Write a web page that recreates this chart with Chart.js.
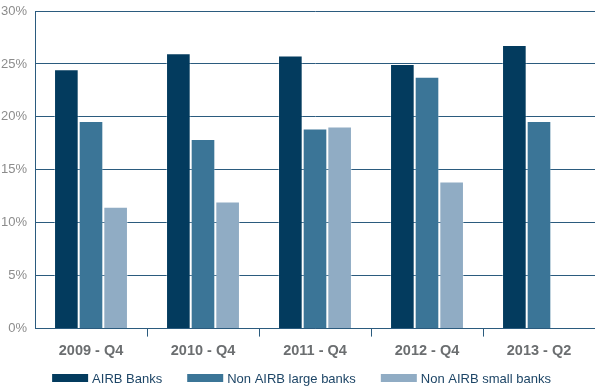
<!DOCTYPE html>
<html>
<head>
<meta charset="utf-8">
<script src="https://cdn.jsdelivr.net/npm/chart.js@4/dist/chart.umd.min.js"></script>
<style>
  html, body { margin: 0; padding: 0; background: #fff; }
  #wrap { width: 595px; height: 387px; }
</style>
</head>
<body>
<div id="wrap"><canvas id="bankChart"></canvas></div>
<script>
const periods = ['2009 - Q4', '2010 - Q4', '2011 - Q4', '2012 - Q4', '2013 - Q2'];
const airbBanks = [24.5, 26.0, 25.8, 25.0, 26.8];
const nonAirbLarge = [19.6, 17.9, 18.9, 23.8, 19.6];
const nonAirbSmall = [11.5, 12.0, 19.1, 13.9, null];
const yTicks = [0, 5, 10, 15, 20, 25, 30];

const lineColor = '#2b5b7e';

// row of wide colour boxes under the axis, one per dataset
const bottomLegend = {
    id: 'bottomLegend',
    afterDraw(chart) {
        const c = chart.ctx;
        const boxW = 36, boxH = 8, gap = 4, itemGap = 25;
        c.save();
        c.font = '13px "Liberation Sans"';
        c.textBaseline = 'middle';
        const items = chart.data.datasets.map(ds => ({
            label: ds.label,
            color: ds.backgroundColor,
            w: boxW + gap + c.measureText(ds.label).width
        }));
        const total = items.reduce((s, it) => s + it.w, 0) + itemGap * (items.length - 1);
        let x = (chart.width - total) / 2 + 4;
        const y = chart.height - 9;
        items.forEach(it => {
            c.fillStyle = it.color;
            c.fillRect(x, y - boxH / 2, boxW, boxH);
            c.fillStyle = '#1d4566';
            c.fillText(it.label, x + boxW + gap, y + 1);
            x += it.w + itemGap;
        });
        c.restore();
    }
};

const ctx = document.getElementById('bankChart').getContext('2d');

const chart = new Chart(ctx, {
    type: 'bar',
    data: {
        labels: periods,
        datasets: [
            { label: 'AIRB Banks', data: airbBanks, backgroundColor: '#033b5e' },
            { label: 'Non AIRB large banks', data: nonAirbLarge, backgroundColor: '#3b7597' },
            { label: 'Non AIRB small banks', data: nonAirbSmall, backgroundColor: '#90acc4' }
        ]
    },
    plugins: [bottomLegend],
    options: {
        responsive: true,
        maintainAspectRatio: false,
        animation: false,
        layout: { padding: { top: 11, right: 0, left: 0, bottom: 21 } },
        datasets: {
            bar: {
                barPercentage: 1,
                categoryPercentage: 0.66,
                borderWidth: 1,
                borderColor: 'rgba(255,255,255,0.35)'
            }
        },
        plugins: {
            tooltip: { enabled: false },
            legend: { display: false }
        },
        scales: {
            x: {
                grid: {
                    drawOnChartArea: false,
                    drawTicks: true,
                    tickLength: 8,
                    color: c => (c.index === 0 || c.index === periods.length) ? 'rgba(0,0,0,0)' : lineColor
                },
                border: { color: lineColor, width: 1 },
                ticks: {
                    padding: 6,
                    color: '#6b6e70',
                    font: { family: 'Liberation Sans', size: 14.5, weight: 'bold' }
                }
            },
            y: {
                min: 0,
                max: 30,
                afterFit: s => {
                    s.width = 35;
                    s.paddingTop = 0;
                    s.paddingBottom = 0;
                },
                afterBuildTicks: s => { s.ticks = yTicks.map(v => ({ value: v })); },
                grid: { drawTicks: false, color: lineColor, lineWidth: 1 },
                border: { color: lineColor, width: 1 },
                ticks: {
                    padding: 8,
                    color: '#8c8c8c',
                    font: { family: 'Liberation Sans', size: 13 },
                    callback: v => v + '%'
                }
            }
        }
    }
});
</script>
</body>
</html>
